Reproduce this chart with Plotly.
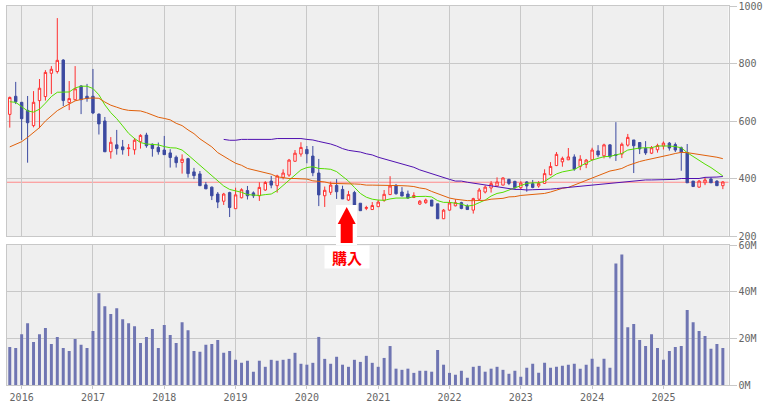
import plotly.graph_objects as go
from plotly.subplots import make_subplots

# monthly candles, Nov 2015 - Nov 2025
MONTHS = ["2015-11", "2015-12"] + [f"{y}-{m:02d}" for y in range(2016, 2025) for m in range(1, 13)] \
    + [f"2025-{m:02d}" for m in range(1, 12)]

OPENS = [623, 686,
         665, 637, 584, 671, 685, 766, 772, 812, 664, 674, 722, 686,
         686, 624, 600, 493, 517, 510, 504, 500, 528, 551, 519, 508,
         499, 489, 474, 456, 469, 423, 416, 378, 370, 346, 321, 351,
         295, 333, 358, 350, 340, 360, 391, 375, 404, 412, 460, 485,
         501, 478, 419, 340, 352, 376, 362, 325, 351, 314, 296, 292,
         302, 324, 344, 376, 353, 346, 334, 311, 316, 325, 312, 260,
         290, 305, 316, 304, 290, 328, 353, 367, 374, 377, 397, 390,
         368, 388, 382, 374, 383, 413, 445, 458, 465, 475, 442, 449,
         465, 496, 479, 517, 483, 485, 516, 534, 525, 505, 488, 500,
         513, 523, 518, 507, 490, 391, 370, 385, 398, 391, 375]
HIGHS = [685, 736,
         666, 687, 704, 746, 777, 791, 958, 815, 739, 791, 724, 729,
         781, 626, 614, 544, 569, 534, 520, 541, 554, 559, 522, 525,
         548, 502, 480, 484, 472, 437, 426, 388, 372, 353, 350, 354,
         368, 366, 374, 355, 387, 391, 409, 413, 432, 468, 499, 526,
         513, 513, 468, 372, 389, 398, 375, 357, 357, 314, 305, 318,
         325, 360, 408, 381, 370, 358, 352, 325, 330, 325, 312, 294,
         325, 328, 319, 310, 333, 367, 376, 391, 404, 404, 399, 392,
         391, 391, 395, 391, 432, 457, 492, 476, 506, 484, 481, 468,
         507, 516, 521, 519, 596, 525, 555, 534, 527, 530, 513, 521,
         529, 527, 525, 511, 520, 391, 395, 404, 403, 394, 391]
LOWS = [577, 659,
        534, 455, 578, 575, 671, 694, 765, 652, 638, 671, 624, 667,
        624, 553, 492, 469, 483, 483, 478, 483, 504, 507, 476, 483,
        483, 438, 438, 417, 403, 398, 374, 364, 325, 297, 308, 266,
        294, 331, 327, 332, 322, 357, 366, 351, 397, 406, 459, 476,
        453, 408, 304, 301, 343, 329, 329, 322, 308, 288, 290, 291,
        301, 319, 343, 344, 339, 329, 332, 308, 312, 304, 260, 259,
        288, 303, 293, 292, 278, 325, 348, 351, 371, 377, 377, 362,
        360, 354, 366, 368, 381, 411, 443, 441, 464, 427, 429, 436,
        464, 474, 470, 470, 461, 471, 511, 419, 485, 482, 485, 490,
        501, 497, 492, 427, 385, 372, 368, 377, 385, 375, 363]
CLOSES = [682, 667,
          608, 594, 665, 714, 769, 780, 811, 671, 678, 712, 674, 678,
          628, 590, 493, 526, 504, 500, 506, 533, 550, 514, 504, 493,
          483, 473, 455, 467, 417, 410, 375, 364, 340, 318, 346, 299,
          343, 361, 340, 340, 369, 386, 377, 409, 419, 464, 488, 508,
          486, 420, 343, 359, 377, 354, 329, 344, 308, 288, 299, 306,
          318, 345, 374, 347, 339, 332, 341, 321, 325, 304, 260, 290,
          315, 316, 296, 292, 330, 360, 370, 382, 388, 402, 383, 368,
          384, 374, 369, 383, 417, 442, 484, 470, 475, 433, 467, 464,
          499, 482, 517, 476, 481, 519, 543, 514, 503, 489, 507, 515,
          523, 506, 499, 491, 385, 372, 391, 395, 385, 375, 388]

MA_SHORT = [667, 665,
            650, 635, 631, 641, 662, 685, 700, 700, 701, 715, 721, 721,
            713, 691, 656, 629, 608, 583, 557, 539, 525, 520, 518, 517,
            511, 507, 506, 499, 482, 464, 445, 426, 410, 391, 374, 362,
            358, 352, 344, 343, 341, 344, 346, 358, 375, 395, 412, 430,
            438, 441, 435, 434, 432, 424, 409, 391, 369, 348, 335, 328,
            325, 324, 329, 332, 332, 332, 337, 338, 338, 336, 323, 317,
            317, 314, 311, 304, 307, 316, 325, 339, 348, 352, 360, 369,
            376, 383, 385, 385, 390, 403, 416, 423, 427, 431, 443, 455,
            464, 470, 476, 477, 482, 487, 499, 503, 506, 507, 507, 513,
            514, 513, 511, 507, 490, 476, 461, 450, 438, 424, 409]
MA_MID = [510, 518,
          528, 543, 559, 577, 600, 619, 636, 648, 658, 670, 675, 679,
          680, 679, 666, 655, 648, 641, 637, 637, 635, 629, 621, 613,
          609, 604, 592, 584, 569, 556, 538, 525, 510, 490, 476, 465,
          453, 446, 435, 430, 426, 420, 415, 406, 402, 400, 400, 400,
          398, 392, 390, 388, 383, 383, 383, 382, 381, 380, 377, 377,
          377, 376, 375, 375, 375, 374, 372, 367, 364, 355, 348, 341,
          332, 328, 325, 323, 323, 324, 324, 328, 330, 331, 336, 337,
          341, 343, 345, 346, 348, 353, 360, 366, 369, 377, 385, 394,
          403, 409, 418, 426, 430, 435, 445, 453, 459, 464, 468, 474,
          477, 482, 487, 491, 490, 487, 482, 481, 476, 474, 469]
MA_LONG = [None] * 36 + [536, 533,
           533, 536, 536, 536, 536, 536, 536, 539, 539, 539, 539, 539,
           536, 534, 529, 525, 520, 513, 504, 498, 495, 492, 486, 482,
           474, 468, 464, 456, 452, 446, 439, 430, 423, 417, 410, 404,
           397, 391, 391, 387, 384, 382, 379, 376, 372, 370, 365, 362,
           362, 360, 361, 361, 363, 363, 365, 367, 368, 370, 373, 374,
           377, 378, 382, 383, 385, 387, 390, 391, 392, 395, 395, 395,
           395, 397, 397, 400, 400, 400, 400, 404, 404, 405, 407]

VOLUME_M = [16.3, 15.9,
            21.8, 26.5, 18.4, 21.8, 24.4, 17.6, 20.6, 15.9, 14.6, 19.7, 17.2, 15.9,
            23.1, 39.3, 33.8, 30.4, 32.9, 28.2, 26.5, 25.2, 18.0, 20.6, 24.0, 15.9,
            25.7, 21.4, 18.0, 26.9, 23.5, 14.6, 14.2, 17.2, 17.6, 19.3, 13.8, 14.6,
            10.8, 9.5, 10.4, 5.7, 10.4, 7.8, 10.8, 10.4, 10.8, 11.2, 13.8, 9.1,
            8.7, 9.5, 20.6, 11.2, 9.1, 12.1, 8.7, 7.8, 10.8, 9.9, 12.5, 9.5,
            7.8, 11.6, 16.7, 7.0, 6.5, 7.0, 5.2, 6.1, 6.1, 5.7, 15.0, 8.7,
            5.2, 4.4, 6.1, 3.1, 7.8, 8.2, 5.7, 7.0, 7.8, 6.5, 4.8, 6.1,
            3.5, 7.4, 9.1, 5.2, 9.5, 7.4, 7.8, 8.2, 8.7, 9.1, 7.0, 8.7,
            11.2, 7.8, 11.2, 7.4, 52.1, 55.9, 24.8, 26.1, 19.3, 16.7, 21.8, 15.9,
            10.8, 14.6, 16.3, 16.7, 32.1, 26.9, 23.1, 21.0, 15.5, 17.6, 15.9]

BUY_PRICE = 387
YEARS = ["2016", "2017", "2018", "2019", "2020", "2021", "2022", "2023", "2024", "2025"]
PRICE_TICKS = [200, 400, 600, 800, 1000]
VOLUME_TICKS = [0, 20, 40, 60]

W, H = 764, 407
GRID = "#c8c8c8"
TICK_FONT = dict(family="DejaVu Sans Mono", size=10, color="#666666")

x = list(range(len(MONTHS)))
year_pos = [MONTHS.index(f"{y}-01") for y in YEARS]


def px_x(p):
    return p / W


def px_y(p):
    return 1 - p / H


fig = make_subplots(rows=2, cols=1)

fig.add_trace(go.Candlestick(
    x=x, open=OPENS, high=HIGHS, low=LOWS, close=CLOSES,
    increasing=dict(line=dict(color="#ff3030", width=1), fillcolor="#ffffff"),
    decreasing=dict(line=dict(color="#3c4aa0", width=1), fillcolor="#3c4aa0"),
    whiskerwidth=0, hoverinfo="skip",
), row=1, col=1)

for values, color in [(MA_SHORT, "#55dd00"), (MA_MID, "#e0600a"), (MA_LONG, "#5010b0")]:
    fig.add_trace(go.Scatter(x=x, y=values, mode="lines", line=dict(color=color, width=1),
                             hoverinfo="skip"), row=1, col=1)

fig.add_trace(go.Bar(x=x, y=VOLUME_M, width=0.5, marker=dict(color="#6f75b2", line_width=0),
                     hoverinfo="skip"), row=2, col=1)

axis_common = dict(showgrid=True, gridcolor=GRID, gridwidth=1, zeroline=False, automargin=False,
                   showline=True, linecolor=GRID, linewidth=1, mirror=True)
x_range = [-0.55, 120.95]

fig.update_xaxes(axis_common, range=x_range, tickmode="array", tickvals=year_pos,
                 domain=[px_x(6.5), px_x(728.5)], rangeslider_visible=False)
fig.update_xaxes(showticklabels=False, ticks="", row=1, col=1)
fig.update_xaxes(ticktext=YEARS, ticks="outside", ticklen=3, tickcolor=GRID,
                 tickfont=TICK_FONT, row=2, col=1)

fig.update_yaxes(axis_common, side="right", ticks="outside", ticklen=7, tickcolor=GRID, tickfont=TICK_FONT)
fig.update_yaxes(range=[200, 1000], tickvals=PRICE_TICKS, domain=[px_y(236), px_y(6)], row=1, col=1)
fig.update_yaxes(range=[0, 60], tickvals=VOLUME_TICKS, ticktext=[f"{v}M" for v in VOLUME_TICKS],
                 domain=[px_y(385), px_y(245)], row=2, col=1)

# buy price line
fig.add_hline(y=BUY_PRICE, line=dict(color="#ff8a8a", width=1), layer="below", row=1, col=1)

# buy marker: white patch + block arrow + label
fig.add_shape(type="rect", xref="paper", yref="paper", layer="above", line_width=0, fillcolor="#ffffff",
              x0=px_x(336), x1=px_x(357), y0=px_y(245), y1=px_y(205))
arrow_pts = [(346.7, 207), (355.7, 224), (352.7, 224), (352.7, 243), (340.7, 243), (340.7, 224), (337.7, 224)]
path = "M " + " L ".join(f"{px_x(a):.5f},{px_y(b):.5f}" for a, b in arrow_pts) + " Z"
fig.add_shape(type="path", xref="paper", yref="paper", layer="above", path=path,
              fillcolor="#ff0000", line_width=0)
fig.add_annotation(text="<b>購入</b>", xref="paper", yref="paper", x=px_x(347), y=px_y(257),
                   xanchor="center", yanchor="middle", showarrow=False, bgcolor="#ffffff",
                   width=44, height=22, borderpad=0,
                   font=dict(family="Noto Sans CJK JP", size=15, color="#ff0000"))

fig.update_layout(
    width=W, height=H, autosize=False,
    margin=dict(l=0, r=0, t=0, b=0, autoexpand=False),
    paper_bgcolor="#ffffff", plot_bgcolor="#efefef",
    showlegend=False, boxgap=0.42,
)

fig.write_html("out.html", config=dict(displayModeBar=False),
               post_script="document.body.style.margin='0';")
